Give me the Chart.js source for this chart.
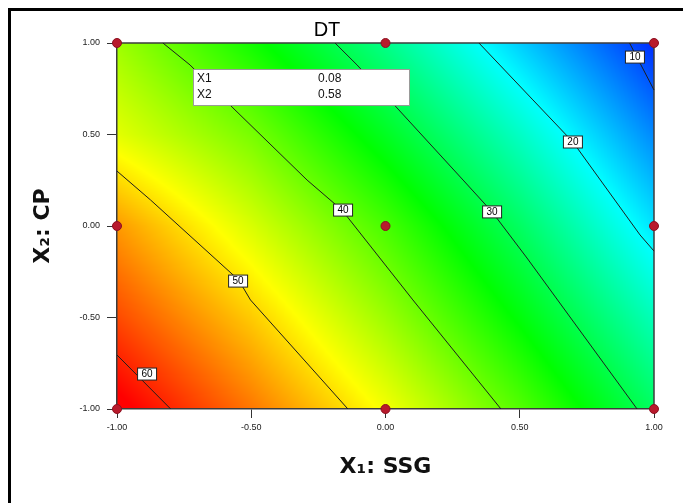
<!DOCTYPE html>
<html>
<head>
<meta charset="utf-8">
<script src="https://cdn.jsdelivr.net/npm/chart.js@4.4.1/dist/chart.umd.min.js"></script>
<style>
	html, body { margin: 0; padding: 0; background: #fff; }
</style>
</head>
<body>
<canvas id="dt-chart" width="683" height="503"></canvas>
<script>
const xTicks = [-1, -0.5, 0, 0.5, 1];
const xTickLabels = ["-1.00", "-0.50", "0.00", "0.50", "1.00"];
const yTicks = [-1, -0.5, 0, 0.5, 1];
const yTickLabels = ["-1.00", "-0.50", "0.00", "0.50", "1.00"];

// design points
const designX = [-1, 0, 1, -1, 0, 1, -1, 0, 1];
const designY = [1, 1, 1, 0, 0, 0, -1, -1, -1];

// contour lines
const levels = [60, 50, 40, 30, 20, 10];
const line60x = [-1, -0.8];
const line60y = [-0.705, -1];
const line50x = [-1, -0.875, -0.547, -0.503, -0.14];
const line50y = [0.3, 0.142, -0.295, -0.404, -1];
const line40x = [-0.829, -0.728, -0.568, -0.292, -0.162, 0.102, 0.43];
const line40y = [1, 0.88, 0.645, 0.251, 0.087, -0.404, -1];
const line30x = [-0.188, -0.106, 0.043, 0.289, 0.397, 0.527, 0.937];
const line30y = [1, 0.88, 0.645, 0.251, 0.077, -0.175, -1];
const line20x = [0.348, 0.549, 0.698, 0.948, 1];
const line20y = [1, 0.689, 0.459, -0.049, -0.137];
const line10x = [0.909, 1];
const line10y = [1, 0.743];
const labelX = [-0.888, -0.549, -0.158, 0.397, 0.698, 0.929];
const labelY = [-0.809, -0.301, 0.087, 0.077, 0.459, 0.923];

// DT estimated at the tick crossings (rows from top to bottom)
const gridX = [-1, -0.5, 0, 0.5, 1];
const gridY = [1, 0.5, 0, -0.5, -1];
const dtGrid = [
	[42.7, 34.9, 26.5, 17.3, 8.4],
	[46.5, 40.6, 32.2, 23.2, 13.5],
	[53.6, 45.9, 37.9, 28.7, 18.5],
	[58.0, 50.9, 42.6, 33.5, 23.8],
	[63.0, 55.5, 47.5, 38.6, 28.7],
];

const infoNames = ["X1", "X2"];
const infoValues = ["0.08", "0.58"];

const toPoints = (xs, ys) => xs.map((x, i) => ({ x: x, y: ys[i] }));

const lineSets = [
	[line60x, line60y],
	[line50x, line50y],
	[line40x, line40y],
	[line30x, line30y],
	[line20x, line20y],
	[line10x, line10y],
];

function dtAt(x, y) {
	let i = 0;
	while (i < gridX.length - 2 && x > gridX[i + 1]) i++;
	let j = 0;
	while (j < gridY.length - 2 && y < gridY[j + 1]) j++;
	const tx = Math.min(1, Math.max(0, (x - gridX[i]) / (gridX[i + 1] - gridX[i])));
	const ty = Math.min(1, Math.max(0, (y - gridY[j]) / (gridY[j + 1] - gridY[j])));
	const a = dtGrid[j][i] * (1 - tx) + dtGrid[j][i + 1] * tx;
	const b = dtGrid[j + 1][i] * (1 - tx) + dtGrid[j + 1][i + 1] * tx;
	return a * (1 - ty) + b * ty;
}

const stops = [
	[0, 0, 255],
	[0, 255, 255],
	[0, 255, 0],
	[255, 255, 0],
	[255, 0, 0],
];
const vMin = 6;
const vMax = 62;
function colorFor(v) {
	let t = (v - vMin) / (vMax - vMin);
	t = Math.min(1, Math.max(0, t)) * (stops.length - 1);
	const k = Math.min(stops.length - 2, Math.floor(t));
	const f = t - k;
	return stops[k].map((c, n) => Math.round(c + (stops[k + 1][n] - c) * f));
}

const surfacePlugin = {
	id: "surface",
	beforeDraw(chart) {
		const { ctx, chartArea: a, scales } = chart;
		ctx.save();
		ctx.fillStyle = "#fff";
		ctx.fillRect(0, 0, chart.width, chart.height);
		// outer frame (only top and left are visible)
		ctx.fillStyle = "#000";
		ctx.fillRect(8, 8, chart.width - 8, 3);
		ctx.fillRect(8, 8, 3, chart.height - 8);

		const w = Math.round(a.right - a.left);
		const h = Math.round(a.bottom - a.top);
		const img = ctx.createImageData(w, h);
		for (let py = 0; py < h; py++) {
			const yv = scales.y.getValueForPixel(a.top + py + 0.5);
			for (let px = 0; px < w; px++) {
				const xv = scales.x.getValueForPixel(a.left + px + 0.5);
				const c = colorFor(dtAt(xv, yv));
				const o = (py * w + px) * 4;
				img.data[o] = c[0];
				img.data[o + 1] = c[1];
				img.data[o + 2] = c[2];
				img.data[o + 3] = 255;
			}
		}
		ctx.putImageData(img, Math.round(a.left), Math.round(a.top));

		ctx.strokeStyle = "#3c3c3c";
		ctx.lineWidth = 1.5;
		ctx.beginPath();
		ctx.moveTo(a.left, a.top);
		ctx.lineTo(a.right, a.top);
		ctx.lineTo(a.right, a.bottom);
		ctx.stroke();
		ctx.restore();
	},
	afterDatasetsDraw(chart) {
		const { ctx, scales } = chart;
		ctx.save();
		// contour labels
		ctx.font = "10px 'Liberation Sans', Arial, sans-serif";
		ctx.textAlign = "center";
		ctx.textBaseline = "middle";
		levels.forEach((lv, i) => {
			const cx = scales.x.getPixelForValue(labelX[i]);
			const cy = scales.y.getPixelForValue(labelY[i]);
			ctx.fillStyle = "#fff";
			ctx.fillRect(cx - 9.5, cy - 6, 19, 12);
			ctx.strokeStyle = "#222";
			ctx.lineWidth = 1;
			ctx.strokeRect(cx - 9.5, cy - 6, 19, 12);
			ctx.fillStyle = "#000";
			ctx.fillText(String(lv), cx, cy + 0.5);
		});

		// info box
		const bx = scales.x.getPixelForValue(-0.717);
		const by = scales.y.getPixelForValue(0.858);
		const bw = scales.x.getPixelForValue(0.0875) - bx;
		const bh = scales.y.getPixelForValue(0.661) - by;
		ctx.fillStyle = "#fff";
		ctx.fillRect(bx, by, bw, bh);
		ctx.strokeStyle = "#9a9a9a";
		ctx.strokeRect(bx + 0.5, by + 0.5, bw, bh);
		ctx.fillStyle = "#111";
		ctx.font = "12px 'Liberation Sans', Arial, sans-serif";
		ctx.textAlign = "left";
		infoNames.forEach((name, i) => {
			const ty = by + 10 + i * 16;
			ctx.fillText(name, bx + 4, ty);
			ctx.fillText(infoValues[i], bx + 125, ty);
		});
		ctx.restore();
	},
};

const chartEl = document.getElementById("dt-chart");

const datasets = [
	{
		label: "design",
		data: toPoints(designX, designY),
		showLine: false,
		pointRadius: 4.5,
		pointStyle: "circle",
		backgroundColor: "#b81a2c",
		borderColor: "#8c1020",
		borderWidth: 1,
		clip: false,
	},
];
lineSets.forEach((pair, i) => {
	datasets.push({
		label: "DT " + levels[i],
		data: toPoints(pair[0], pair[1]),
		showLine: true,
		borderColor: "#1e1e1e",
		borderWidth: 1,
		pointRadius: 0,
		tension: 0,
		clip: false,
	});
});

new Chart(chartEl, {
	type: "scatter",
	data: { datasets: datasets },
	plugins: [surfacePlugin],
	options: {
		responsive: false,
		animation: false,
		events: [],
		layout: {
			padding: { left: 0, right: 29, top: 5, bottom: 0 },
		},
		plugins: {
			legend: { display: false },
			tooltip: { enabled: false },
			title: {
				display: true,
				text: "DT",
				color: "#000",
				font: { family: "'Liberation Sans', Arial, sans-serif", size: 20, weight: "normal" },
				padding: { top: 13, bottom: 1 },
			},
		},
		scales: {
			x: {
				type: "linear",
				min: -1,
				max: 1,
				afterBuildTicks: (scale) => {
					scale.ticks = xTicks.map((v) => ({ value: v }));
				},
				afterFit: (scale) => {
					scale.height = 94;
				},
				ticks: {
					callback: (v, i) => xTickLabels[i],
					color: "#222",
					font: { family: "'Liberation Sans Narrow', 'Liberation Sans', Arial", size: 9 },
					padding: 4,
					maxRotation: 0,
				},
				grid: {
					drawOnChartArea: false,
					drawTicks: true,
					tickLength: 9,
					color: "#333",
				},
				border: { display: true, color: "#3c3c3c", width: 1.5 },
				title: {
					display: true,
					text: "X₁: SSG",
					color: "#111",
					font: { family: "'DejaVu Sans', Verdana, sans-serif", size: 22, weight: "bold" },
					padding: { top: 0, bottom: 23 },
				},
			},
			y: {
				type: "linear",
				min: -1,
				max: 1,
				afterBuildTicks: (scale) => {
					scale.ticks = yTicks.map((v) => ({ value: v }));
				},
				afterFit: (scale) => {
					scale.width = 117;
				},
				ticks: {
					callback: (v, i) => yTickLabels[i],
					color: "#222",
					font: { family: "'Liberation Sans Narrow', 'Liberation Sans', Arial", size: 9 },
					padding: 7,
				},
				grid: {
					drawOnChartArea: false,
					drawTicks: true,
					tickLength: 10,
					color: "#333",
				},
				border: { display: true, color: "#3c3c3c", width: 1.5 },
				title: {
					display: true,
					text: "X₂: CP",
					color: "#111",
					font: { family: "'DejaVu Sans', Verdana, sans-serif", size: 22, weight: "bold" },
					padding: { top: 30, bottom: 0 },
				},
			},
		},
	},
});
</script>
</body>
</html>
